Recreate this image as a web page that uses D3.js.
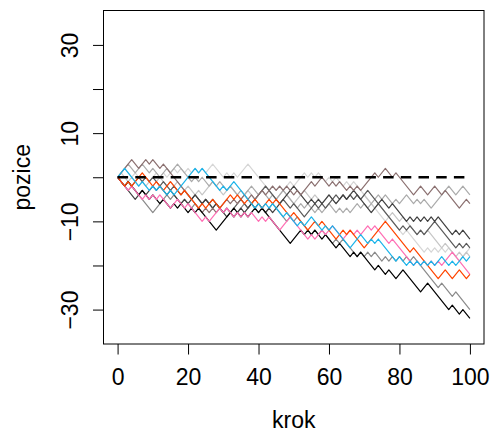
<!DOCTYPE html>
<html>
<head>
<meta charset="utf-8">
<script src="https://cdn.jsdelivr.net/npm/d3@7"></script>
<style>
  html, body { margin: 0; padding: 0; background: #fff; }
  svg text { font-family: "Liberation Sans", Arial, Helvetica, sans-serif; }
</style>
</head>
<body>
<svg id="chart" width="497" height="436"></svg>
<script>
// Random walks: turning points [krok, pozice]; between them every step is +1 or -1.
const cerna = [[0,0],[2,-2],[3,-1],[6,-4],[7,-3],[9,-5],[10,-4],[12,-6],[13,-5],[15,-7],[16,-6],[17,-7],[18,-6],[20,-8],[21,-7],[22,-8],[23,-7],[28,-12],[33,-7],[35,-9],[36,-8],[37,-9],[39,-7],[40,-8],[41,-7],[49,-15],[52,-12],[53,-13],[54,-12],[55,-13],[56,-12],[58,-14],[59,-13],[62,-16],[63,-15],[66,-18],[67,-17],[68,-18],[69,-17],[71,-19],[73,-21],[74,-20],[76,-22],[77,-21],[79,-23],[81,-21],[86,-26],[88,-24],[94,-30],[95,-29],[97,-31],[98,-30],[100,-32]];
const tmavosedaA = [[0,0],[5,-5],[7,-3],[8,-4],[10,-2],[11,-3],[12,-2],[14,-4],[15,-3],[18,-6],[19,-5],[20,-6],[22,-4],[24,-6],[25,-5],[27,-7],[28,-6],[31,-9],[32,-8],[33,-9],[35,-7],[36,-8],[38,-6],[39,-7],[40,-6],[42,-8],[43,-7],[44,-8],[50,-2],[54,-6],[55,-5],[56,-6],[57,-5],[58,-6],[59,-5],[60,-4],[61,-5],[62,-6],[63,-5],[64,-4],[65,-5],[66,-4],[67,-3],[72,-8],[73,-7],[75,-5],[77,-7],[78,-6],[82,-10],[83,-9],[84,-10],[85,-9],[86,-10],[87,-9],[88,-10],[89,-9],[90,-10],[91,-9],[95,-13],[96,-12],[97,-13],[98,-12],[100,-14]];
const tmavosedaB = [[0,0],[2,-2],[3,-1],[4,-2],[6,0],[7,-1],[8,0],[9,-1],[10,0],[12,-2],[13,-1],[15,-3],[16,-2],[18,-4],[19,-3],[21,-5],[22,-4],[24,-6],[25,-5],[26,-6],[27,-5],[30,-8],[31,-7],[32,-8],[35,-5],[37,-7],[40,-4],[42,-2],[46,-6],[47,-5],[49,-7],[50,-6],[53,-9],[56,-6],[57,-7],[58,-6],[59,-7],[62,-4],[63,-5],[64,-4],[65,-5],[66,-4],[67,-5],[68,-4],[69,-5],[70,-4],[71,-3],[72,-4],[80,-12],[81,-11],[82,-12],[83,-11],[84,-12],[85,-13],[86,-12],[87,-13],[88,-12],[89,-11],[90,-10],[91,-11],[96,-16],[97,-15],[98,-16],[99,-15],[100,-16]];
const seda = [[0,0],[3,-3],[4,-2],[10,-8],[14,-4],[15,-5],[16,-4],[18,-6],[19,-5],[21,-7],[22,-6],[23,-7],[25,-5],[27,-7],[28,-6],[30,-8],[31,-7],[33,-9],[36,-6],[37,-7],[38,-6],[40,-8],[41,-7],[42,-8],[44,-6],[48,-10],[49,-9],[50,-10],[51,-9],[55,-13],[56,-12],[57,-13],[58,-12],[61,-15],[62,-14],[63,-15],[64,-14],[68,-18],[69,-17],[70,-18],[71,-17],[72,-18],[73,-17],[75,-19],[76,-18],[77,-19],[78,-18],[79,-19],[80,-18],[81,-19],[82,-18],[83,-19],[84,-18],[85,-19],[91,-25],[92,-24],[95,-27],[96,-26],[100,-30]];
const svetlesedaA = [[0,0],[3,3],[5,1],[7,3],[9,1],[10,2],[12,0],[14,2],[15,1],[17,3],[21,-1],[22,0],[23,-1],[24,0],[26,-2],[27,-1],[28,-2],[29,-1],[31,-3],[32,-2],[34,-4],[35,-3],[36,-4],[38,-2],[40,-4],[41,-3],[43,-5],[44,-4],[45,-5],[47,-3],[51,-7],[52,-6],[53,-7],[54,-6],[56,-8],[57,-7],[58,-8],[60,-6],[62,-8],[63,-7],[64,-8],[65,-7],[66,-8],[68,-6],[69,-7],[70,-6],[71,-7],[74,-4],[75,-5],[76,-4],[78,-6],[79,-5],[80,-6],[82,-4],[84,-6],[85,-5],[86,-6],[87,-5],[89,-7],[91,-5],[94,-2],[96,-4],[98,-2],[100,-4]];
const svetlesedaB = [[0,0],[2,2],[4,0],[5,1],[7,-1],[8,0],[9,-1],[11,1],[12,0],[13,1],[14,0],[16,2],[17,1],[18,2],[19,1],[20,2],[21,1],[22,2],[23,1],[24,2],[25,1],[27,3],[30,0],[31,1],[32,0],[33,1],[34,0],[37,3],[43,-3],[44,-2],[45,-3],[46,-2],[47,-3],[48,-2],[49,-1],[50,-2],[51,-1],[53,1],[54,0],[55,1],[56,0],[57,1],[59,-1],[60,0],[61,-1],[62,0],[64,-2],[65,-1],[66,-2],[67,-1],[69,-3],[72,-6],[76,-10],[77,-9],[81,-13],[82,-12],[87,-17],[88,-16],[89,-17],[90,-16],[91,-17],[92,-16],[93,-17],[94,-16],[96,-18],[97,-19],[100,-16]];
const svetlesedaC = [[0,0],[1,1],[3,-1],[4,0],[6,-2],[7,-1],[8,-2],[10,0],[11,-1],[12,0],[14,-2],[15,-1],[16,-2],[17,-1],[19,-3],[20,-2],[22,-4],[23,-3],[24,-4],[27,-1],[30,-4],[32,-2],[35,-5],[37,-3],[39,-5],[42,-2],[45,-5],[47,-3],[50,-6],[52,-4],[53,-3],[55,-5],[56,-4],[58,-6],[59,-5],[60,-4],[62,-6],[63,-5],[64,-4],[65,-5],[66,-4],[67,-5],[68,-4],[69,-5],[70,-4],[71,-5],[73,-7],[74,-6],[77,-9],[78,-8],[80,-10],[81,-9],[82,-10],[85,-13],[86,-12],[87,-13],[88,-12],[92,-16],[93,-15],[96,-18],[97,-17],[98,-18],[99,-17],[100,-18]];
const hneda = [[0,0],[4,4],[6,2],[8,4],[9,3],[10,4],[12,2],[13,3],[24,-8],[25,-7],[26,-8],[27,-7],[28,-8],[31,-5],[32,-6],[33,-5],[34,-6],[36,-4],[37,-5],[38,-4],[39,-5],[41,-3],[42,-4],[44,-2],[45,-3],[46,-2],[47,-3],[48,-2],[50,-4],[51,-3],[52,-4],[55,-1],[56,-2],[58,0],[60,-2],[61,-1],[62,-2],[63,-1],[65,-3],[66,-2],[67,-3],[68,-2],[69,-3],[71,-1],[73,1],[74,0],[76,2],[78,0],[79,1],[80,0],[84,-4],[86,-2],[88,-4],[90,-2],[92,-4],[93,-3],[97,-7],[98,-6],[99,-5],[100,-6]];
const ruzova = [[0,0],[3,-3],[4,-2],[7,-5],[8,-4],[9,-5],[10,-4],[11,-5],[12,-4],[15,-7],[17,-5],[19,-7],[20,-6],[24,-10],[25,-9],[26,-10],[29,-7],[30,-8],[31,-7],[33,-9],[34,-8],[35,-9],[36,-8],[37,-9],[38,-8],[40,-10],[41,-9],[42,-10],[43,-9],[46,-12],[49,-9],[50,-10],[54,-14],[55,-13],[56,-14],[58,-12],[59,-13],[61,-11],[64,-14],[66,-12],[67,-13],[68,-12],[69,-13],[71,-11],[72,-12],[73,-11],[77,-15],[78,-14],[84,-20],[85,-19],[86,-20],[87,-19],[88,-20],[89,-19],[90,-20],[91,-19],[92,-20],[95,-17],[100,-22]];
const oranzova = [[0,0],[2,-2],[3,-1],[4,-2],[7,1],[10,-2],[11,-1],[13,-3],[15,-1],[18,-4],[19,-3],[23,-7],[24,-6],[25,-7],[27,-5],[29,-7],[32,-4],[33,-5],[34,-4],[36,-6],[37,-5],[38,-6],[39,-5],[41,-7],[43,-5],[44,-6],[45,-5],[49,-9],[50,-8],[54,-12],[56,-10],[57,-11],[58,-10],[62,-14],[63,-13],[64,-12],[65,-13],[66,-12],[70,-16],[76,-10],[83,-17],[84,-16],[91,-23],[93,-21],[95,-23],[97,-21],[99,-23],[100,-22]];
const modra = [[0,0],[2,2],[6,-2],[7,-1],[9,-3],[10,-2],[11,-3],[12,-2],[14,-4],[15,-3],[16,-4],[22,2],[23,1],[24,2],[29,-3],[30,-2],[31,-3],[33,-1],[39,-7],[40,-6],[41,-7],[42,-6],[43,-7],[44,-6],[47,-9],[48,-8],[51,-11],[52,-10],[53,-11],[55,-9],[58,-12],[59,-11],[60,-12],[61,-11],[66,-16],[69,-13],[71,-15],[72,-14],[73,-15],[74,-14],[79,-19],[80,-18],[82,-20],[83,-19],[84,-20],[85,-19],[86,-20],[87,-19],[88,-20],[89,-19],[90,-20],[91,-19],[92,-18],[93,-19],[94,-20],[95,-19],[96,-20],[97,-19],[98,-18],[99,-19],[100,-18]];

// Zero reference level
const nulovaUroven = [[0, 0], [100, 0]];

// Axis ticks and limits
const xTicks = [0, 20, 40, 60, 80, 100];
const yTicks = [-30, -20, -10, 0, 10, 20, 30];
const yTickLabels = [-30, -10, 10, 30];
const xLimits = [0, 100];
const yLimits = [-35, 35];

// Drawing order and colour of each walk
const walks = [
  { data: svetlesedaB, color: "#d6d6d6" },
  { data: svetlesedaC, color: "#c6c6c6" },
  { data: svetlesedaA, color: "#ababab" },
  { data: seda,        color: "#8a8a8a" },
  { data: tmavosedaB,  color: "#5a5a5a" },
  { data: tmavosedaA,  color: "#404040" },
  { data: hneda,       color: "#8b7070" },
  { data: cerna,       color: "#000000" },
  { data: ruzova,      color: "#ff6eb4" },
  { data: oranzova,    color: "#ff4500" },
  { data: modra,       color: "#1bb4ea" }
];

const svg = d3.select("#chart");
const box = { left: 103.5, right: 484, top: 10.5, bottom: 344 };

// R-style 4% padding around the limits
const pad = (lim) => { const d = (lim[1] - lim[0]) * 0.04; return [lim[0] - d, lim[1] + d]; };
const x = d3.scaleLinear().domain(pad(xLimits)).range([box.left, box.right]);
const y = d3.scaleLinear().domain(pad(yLimits)).range([box.bottom, box.top]);

const line = d3.line().x(d => x(d[0])).y(d => y(d[1]));

const plot = svg.append("g");
plot.selectAll("path.walk")
  .data(walks)
  .join("path")
  .attr("class", "walk")
  .attr("d", d => line(d.data))
  .attr("fill", "none")
  .attr("stroke", d => d.color)
  .attr("stroke-width", 1.2)
  .attr("stroke-linejoin", "round");

plot.append("path")
  .attr("d", line(nulovaUroven))
  .attr("fill", "none")
  .attr("stroke", "#000")
  .attr("stroke-width", 2.3)
  .attr("stroke-dasharray", "10.5,7.2");

// Frame
svg.append("rect")
  .attr("x", box.left).attr("y", box.top)
  .attr("width", box.right - box.left).attr("height", box.bottom - box.top)
  .attr("fill", "none").attr("stroke", "#000").attr("stroke-width", 1);

const fmt = d => d < 0 ? "\u2212" + Math.abs(d) : String(d);

// X axis
const gx = svg.append("g")
  .attr("transform", `translate(0,${box.bottom})`)
  .call(d3.axisBottom(x).tickValues(xTicks).tickSize(10.5).tickFormat(fmt));
gx.select(".domain").remove();
gx.selectAll(".tick line").attr("stroke", "#000");
gx.selectAll(".tick text")
  .attr("y", 41).attr("dy", 0)
  .attr("fill", "#000")
  .style("font-size", "23px")
  .style("font-family", "'Liberation Sans', Arial, Helvetica, sans-serif");

// Y axis
const gy = svg.append("g")
  .attr("transform", `translate(${box.left},0)`)
  .call(d3.axisLeft(y).tickValues(yTicks).tickSize(10.5)
    .tickFormat(d => yTickLabels.includes(d) ? fmt(d) : ""));
gy.select(".domain").remove();
gy.selectAll(".tick line").attr("stroke", "#000");
gy.selectAll(".tick text")
  .attr("x", 0).attr("dy", 0)
  .attr("text-anchor", "middle")
  .attr("transform", "translate(-25.3,0) rotate(-90)")
  .attr("fill", "#000")
  .style("font-size", "23px")
  .style("font-family", "'Liberation Sans', Arial, Helvetica, sans-serif");

// Axis titles
svg.append("text")
  .attr("x", (box.left + box.right) / 2).attr("y", 428)
  .attr("text-anchor", "middle")
  .style("font-size", "23px")
  .text("krok");

svg.append("text")
  .attr("transform", `translate(30,${(box.top + box.bottom) / 2}) rotate(-90)`)
  .attr("text-anchor", "middle")
  .style("font-size", "23px")
  .text("pozice");
</script>
</body>
</html>
